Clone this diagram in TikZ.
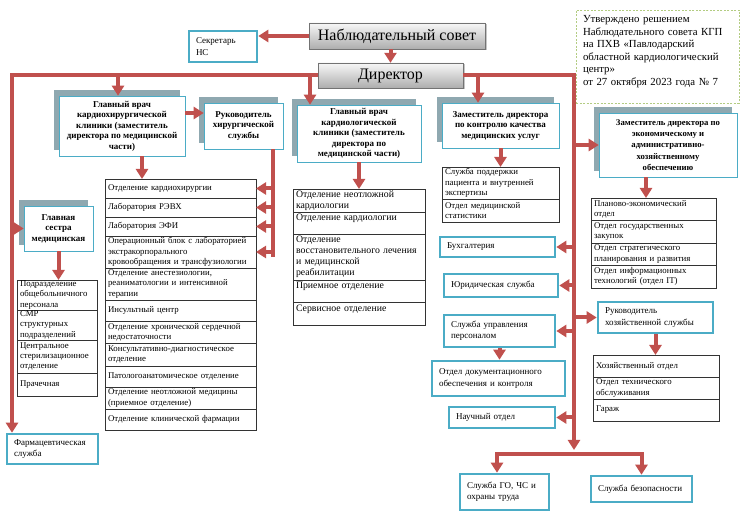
\documentclass[tikz,border=0pt]{standalone}
\usepackage{fontspec}
\setmainfont{Liberation Serif}
\usetikzlibrary{arrows.meta,positioning,shadows}
\definecolor{linkred}{HTML}{C0504D}
\definecolor{unitteal}{HTML}{4BACC6}
\definecolor{panel}{HTML}{8FA8B0}
\definecolor{notegreen}{HTML}{B3CC82}
\newcommand{\deptfont}{\fontsize{8.8}{10.3}\selectfont}
\newcommand{\widefont}{\fontsize{9.8}{10.8}\selectfont}
\newcommand{\chieffont}{\fontsize{9}{10.5}\selectfont\bfseries}
\newcommand{\bigchieffont}{\fontsize{8.7}{11.3}\selectfont\bfseries}
\newcommand{\unitfont}{\fontsize{9}{11.2}\selectfont}
\newcommand{\boardfont}{\fontsize{16}{19}\selectfont}
\newcommand{\notefont}{\fontsize{10.8}{12.5}\selectfont}

\begin{document}
\begin{tikzpicture}[
                x=1pt, y=-1pt,
                board/.style={draw=black!55, top color=black!3, bottom color=black!32,
                    font=\boardfont, inner sep=0pt,
                    drop shadow={shadow xshift=1.5pt, shadow yshift=-1.5pt, fill=black!45}},
                chief/.style={draw=unitteal, line width=0.6pt, fill=white, align=center,
                    font=\chieffont, inner sep=1pt,
                    general shadow={fill=panel, shadow xshift=-5.5pt, shadow yshift=6pt}},
                unit/.style={draw=unitteal, line width=2.6pt, fill=white, align=left,
                    font=\unitfont, inner xsep=7pt, inner ysep=1pt, text width=#1},
                dept/.style={draw=black!80, line width=0.8pt, fill=white, align=left,
                    font=\deptfont, inner xsep=3pt, inner ysep=0.5pt, outer sep=0pt,
                    text width=#1},
                widedept/.style={dept=126pt, font=\widefont},
                note/.style={draw=notegreen, line width=0.8pt, dash pattern=on 2pt off 1.5pt,
                    align=left, font=\notefont, text width=149pt, inner xsep=7pt,
                    inner ysep=4pt, minimum height=93pt},
                link/.style={color=linkred, line width=4pt,
                    -{Triangle[width=12pt,length=10pt]}},
                bus/.style={color=linkred, line width=4pt}]
  \useasboundingbox (0,0) rectangle (745,529);

  % board, director
  \node[board, minimum width=176pt, minimum height=26pt] (board) at (397,36) {Наблюдательный совет};
  \node[board, minimum width=145pt, minimum height=25pt] (dir) at (390.5,75.5) {Директор};
  \node[unit=54pt, minimum height=31pt] (secr) at (223,46.5) {Секретарь\\НС};
  \node[note] (approval) at (657.5,56.5) {Утверждено решением\\Наблюдательного совета КГП\\на ПХВ «Павлодарский\\областной кардиологический\\центр»\\от 27 октября 2023 года № 7\\ \mbox{}};

  % deputies
  \node[chief, minimum width=126pt, minimum height=60pt] (gvkh) at (122,126) {Главный врач\\кардиохирургической\\клиники (заместитель\\директора по медицинской\\части)};
  \node[chief, minimum width=79pt, minimum height=46pt] (ruk) at (243.5,126) {Руководитель\\хирургической\\службы};
  \node[chief, minimum width=124pt, minimum height=57pt] (gvkl) at (359,133.5) {Главный врач\\кардиологической\\клиники (заместитель\\директора по\\медицинской части)};
  \node[chief, minimum width=117pt, minimum height=45pt] (zk) at (500.5,125.5) {Заместитель директора\\по контролю качества\\медицинских услуг};
  \node[chief, font=\bigchieffont, minimum width=138pt, minimum height=64pt] (ze) at (668,145) {Заместитель директора по\\экономическому и\\административно-\\хозяйственному\\обеспечению};
  \node[chief, minimum width=69pt, minimum height=45pt] (gs) at (58.5,228.5) {Главная\\сестра\\медицинская};

  % services
  \node[unit=101pt, minimum height=20pt] (buh) at (497.5,247) {Бухгалтерия};
  \node[unit=100pt, minimum height=23pt] (jur) at (501,285.5) {Юридическая служба};
  \node[unit=97pt, minimum height=32pt] (sup) at (499.5,331) {Служба управления\\персоналом};
  \node[unit=119pt, minimum height=35pt] (dok) at (498.5,378.5) {Отдел документационного\\обеспечения и контроля};
  \node[unit=92pt, minimum height=21pt] (nauch) at (502,417.5) {Научный отдел};
  \node[unit=75pt, minimum height=36pt] (go) at (504.5,492) {Служба ГО, ЧС и\\охраны труда};
  \node[unit=87pt, minimum height=26pt] (sb) at (641.5,489) {Служба безопасности};
  \node[unit=101pt, minimum height=31pt] (rhs) at (655.5,317.5) {Руководитель\\хозяйственной службы};
  \node[unit=77pt, minimum height=30pt] (farm) at (52.5,449) {Фармацевтическая\\служба};

  % cardiac surgery clinic
  \node[dept=145pt, minimum height=19pt, anchor=north west] (kh1) at (105,179) {Отделение кардиохирургии};
  \node[dept=145pt, minimum height=19pt, below=0pt of kh1] (kh2) {Лаборатория РЭВХ};
  \node[dept=145pt, minimum height=19pt, below=0pt of kh2] (kh3) {Лаборатория ЭФИ};
  \node[dept=145pt, minimum height=32pt, below=0pt of kh3] (kh4) {Операционный блок с лабораторией\\экстракорпорального\\кровообращения и трансфузиологии};
  \node[dept=145pt, minimum height=32pt, below=0pt of kh4] (kh5) {Отделение анестезиологии,\\реаниматологии и интенсивной\\терапии};
  \node[dept=145pt, minimum height=21pt, below=0pt of kh5] (kh6) {Инсультный центр};
  \node[dept=145pt, minimum height=22pt, below=0pt of kh6] (kh7) {Отделение хронической сердечной\\недостаточности};
  \node[dept=145pt, minimum height=23pt, below=0pt of kh7] (kh8) {Консультативно-диагностическое\\отделение};
  \node[dept=145pt, minimum height=21pt, below=0pt of kh8] (kh9) {Патологоанатомическое отделение};
  \node[dept=145pt, minimum height=22pt, below=0pt of kh9] (kh10) {Отделение неотложной медицины\\(приемное отделение)};
  \node[dept=145pt, minimum height=21pt, below=0pt of kh10] (kh11) {Отделение клинической фармации};

  % nursing
  \node[dept=74pt, minimum height=30pt, anchor=north west] (ms1) at (17,280) {Подразделение\\общебольничного\\персонала};
  \node[dept=74pt, minimum height=30pt, below=0pt of ms1] (ms2) {СМР\\структурных\\подразделений};
  \node[dept=74pt, minimum height=33pt, below=0pt of ms2] (ms3) {Центральное\\стерилизационное\\отделение};
  \node[dept=74pt, minimum height=23pt, below=0pt of ms3] (ms4) {Прачечная};

  % cardiology clinic
  \node[widedept, minimum height=23pt, anchor=north west] (kl1) at (293,189) {Отделение неотложной\\кардиологии};
  \node[widedept, minimum height=22pt, below=0pt of kl1] (kl2) {Отделение кардиологии\\ \mbox{}};
  \node[widedept, minimum height=46pt, below=0pt of kl2] (kl3) {Отделение\\восстановительного лечения\\и медицинской\\реабилитации};
  \node[widedept, minimum height=22pt, below=0pt of kl3] (kl4) {Приемное отделение\\ \mbox{}};
  \node[widedept, minimum height=23pt, below=0pt of kl4] (kl5) {Сервисное отделение\\ \mbox{}};

  % quality control
  \node[dept=111pt, minimum height=32pt, anchor=north west] (kk1) at (442,167) {Служба поддержки\\пациента и внутренней\\экспертизы};
  \node[dept=111pt, minimum height=23pt, below=0pt of kk1] (kk2) {Отдел медицинской\\статистики};

  % economy
  \node[dept=119pt, minimum height=22pt, anchor=north west] (ek1) at (591,198) {Планово-экономический\\отдел};
  \node[dept=119pt, minimum height=23pt, below=0pt of ek1] (ek2) {Отдел государственных\\закупок};
  \node[dept=119pt, minimum height=22pt, below=0pt of ek2] (ek3) {Отдел стратегического\\планирования и развития};
  \node[dept=119pt, minimum height=23pt, below=0pt of ek3] (ek4) {Отдел информационных\\технологий (отдел IT)};

  % household
  \node[dept=120pt, minimum height=22pt, anchor=north west] (hs1) at (593,355) {Хозяйственный отдел};
  \node[dept=120pt, minimum height=22pt, below=0pt of hs1] (hs2) {Отдел технического\\обслуживания};
  \node[dept=120pt, minimum height=22pt, below=0pt of hs2] (hs3) {Гараж};

  % bend points
  \coordinate (lft) at (12,0);
  \coordinate (rgt) at (574,0);
  \coordinate (c118) at (118,0);
  \coordinate (c142) at (142,0);
  \coordinate (c310) at (310,0);
  \coordinate (c478) at (478,0);
  \coordinate (c497) at (497,0);
  \coordinate (c646) at (646,0);
  \coordinate (r113) at (0,113);
  \coordinate (rukend) at (273,257);
  \coordinate (hbtop) at (574,450);
  \coordinate (hbar) at (574,454);

  \path[link]
  (board.south -| dir.north) edge (dir.north)
  (board.west) edge (board.west -| secr.east)
  ;
  \draw[link] (dir.west) -- (dir.west -| lft) -- (lft |- farm.north);
  \path[link]
  (dir.west -| c118) edge (c118 |- gvkh.north)
  (dir.west -| c310) edge (c310 |- gvkl.north)
  (lft |- gs.west) edge (gs.west)
  ;
  \draw[link] (dir.east) -| (hbtop);
  \path[link]
  (dir.east -| c478) edge (c478 |- zk.north)
  (rgt |- ze.west) edge (ze.west)
  (rgt |- buh.east) edge (buh.east)
  (rgt |- jur.east) edge (jur.east)
  (rgt |- sup.east) edge (sup.east)
  (rgt |- rhs.west) edge (rhs.west)
  (rgt |- nauch.east) edge (nauch.east)
  ;
  \draw[link] (hbar) -| (c497 |- go.north);
  \draw[link] (hbar) -| (sb.north);
  \path[link]
  (gvkh.east |- r113) edge (ruk.west |- r113)
  (c142 |- gvkh.south) edge (c142 |- kh1.north)
  (gs.south) edge (gs.south |- ms1.north)
  (gvkl.south) edge (gvkl.south |- kl1.north)
  (zk.south) edge (zk.south |- kk1.north)
  (c646 |- ze.south) edge (c646 |- ek1.north)
  (rhs.south) edge (rhs.south |- hs1.north)
  (sup.south) edge (sup.south |- dok.north)
  ;
  % surgical service
  \draw[bus] (ruk.south -| rukend) -- (rukend);
  \path[link]
  (rukend |- kh1.east) edge (kh1.east)
  (rukend |- kh2.east) edge (kh2.east)
  (rukend |- kh3.east) edge (kh3.east)
  (rukend |- kh4.east) edge (kh4.east)
  ;
\end{tikzpicture}
\end{document}
